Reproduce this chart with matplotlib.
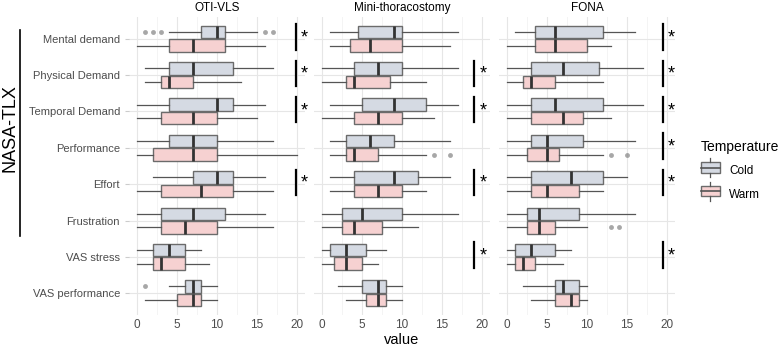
import matplotlib.pyplot as plt
from matplotlib.patches import Patch, Rectangle
from matplotlib.lines import Line2D
from matplotlib.legend_handler import HandlerBase

plt.rcParams['font.family'] = ['Liberation Sans', 'DejaVu Sans']

# categories and panels
items = ["Mental demand", "Physical Demand", "Temporal Demand", "Performance",
         "Effort", "Frustration", "VAS stress", "VAS performance"]
panels = ["OTI-VLS", "Mini-thoracostomy", "FONA"]

# five number summaries: [whislo, q1, med, q3, whishi] per item
oti_cold = [[4, 8, 10, 11, 15], [1, 4, 7, 12, 17], [0, 4, 10, 12, 16], [0, 4, 7, 10, 17],
            [2, 7, 10, 12, 16], [0, 3, 7, 11, 16], [0, 2, 4, 6, 8], [4, 6, 7, 8, 10]]
oti_warm = [[0, 4, 7, 11, 16], [1, 3, 4, 7, 13], [0, 3, 7, 10, 15], [0, 2, 7, 10, 20],
            [0, 3, 8, 12, 17], [0, 3, 6, 10, 17], [0, 2, 3, 6, 9], [1, 5, 7, 8, 10]]
mini_cold = [[1, 4.5, 9, 10, 17], [0, 4, 7, 10, 17], [1, 5, 9, 13, 17], [1, 3, 6, 9, 16],
             [1, 4, 9, 12, 16], [0, 2.5, 5, 10, 17], [0, 1, 3, 5.5, 8], [2, 5, 7, 8, 10]]
mini_warm = [[1, 3.5, 6, 10, 16], [0, 3, 4, 8.5, 13], [0, 4, 7, 10, 14], [1, 3, 4, 7, 13],
             [1, 4, 7, 10, 13], [0, 2.5, 4, 7.5, 12], [0, 1.5, 3, 5, 7], [3, 5.5, 7, 8, 10]]
fona_cold = [[1, 3.5, 6, 12, 16], [0, 3, 7, 11.5, 17], [0, 3, 6, 12, 17], [0, 3, 5, 9.5, 16],
             [0, 3, 8, 12, 15], [0, 2.5, 4, 9, 16], [0, 1, 3, 6, 8], [2, 6, 7, 9, 10]]
fona_warm = [[0, 3.5, 6, 10, 13], [0, 2, 3, 6, 12], [0, 3, 7, 9.5, 13], [0, 2.5, 5, 6.5, 12],
             [0, 3, 5, 9, 12], [0, 2.5, 4, 6, 10], [0, 1, 2, 3.5, 7], [3, 6, 8, 9, 10]]

# outliers: (item index, values)
oti_cold_out = {0: [1, 2, 3, 16, 17], 7: [1]}
oti_warm_out = {}
mini_cold_out = {}
mini_warm_out = {3: [14, 16]}
fona_cold_out = {}
fona_warm_out = {3: [13, 15], 5: [13, 14]}

# significant items per panel and bar x position
oti_sig = [0, 1, 2, 4]
mini_sig = [1, 2, 4, 6]
fona_sig = [0, 1, 2, 3, 4, 6]
sig_x = [19.9, 19.05, 19.5]

data = [(oti_cold, oti_warm, oti_cold_out, oti_warm_out, oti_sig),
        (mini_cold, mini_warm, mini_cold_out, mini_warm_out, mini_sig),
        (fona_cold, fona_warm, fona_cold_out, fona_warm_out, fona_sig)]

cold_col = "#d5dae3"
warm_col = "#f6d1d1"
edge_col = "#6b6b6b"

fig = plt.figure(figsize=(7.84, 3.51), dpi=100)
lefts = [129 / 784, 314 / 784, 499 / 784]
width = 176 / 784
bottom = 1 - 315 / 351
height = 298 / 351


def make_stats(rows, outs):
    st = []
    for i, r in enumerate(rows):
        st.append({"whislo": r[0], "q1": r[1], "med": r[2], "q3": r[3], "whishi": r[4],
                   "fliers": outs.get(i, [])})
    return st


for p, (cold, warm, cout, wout, sig) in enumerate(data):
    ax = fig.add_axes([lefts[p], bottom, width, height])
    ax.set_xlim(-1, 21)
    ax.set_ylim(8.6, 0.4)
    ax.set_xticks([0, 5, 10, 15, 20])
    ax.set_xticks([2.5, 7.5, 12.5, 17.5], minor=True)
    ax.set_yticks(range(1, 9))
    ax.grid(True, which="major", color="#e6e6e6", lw=0.8)
    ax.grid(True, which="minor", axis="x", color="#f2f2f2", lw=0.6)
    ax.set_axisbelow(True)
    for s in ax.spines.values():
        s.set_visible(False)
    ax.tick_params(axis="x", which="both", length=0, labelsize=8.5, labelcolor="#4d4d4d", pad=3)
    ax.tick_params(axis="y", length=3, color="#cccccc", labelsize=8, labelcolor="#4d4d4d")
    if p == 0:
        ax.set_yticklabels(items)
    else:
        ax.set_yticklabels([])
        ax.tick_params(axis="y", length=0)

    pos = list(range(1, 9))
    flier = dict(marker="o", markersize=3.5, markerfacecolor="#8a8a8a",
                 markeredgecolor="none", alpha=0.75)
    for rows, outs, off, col in [(cold, cout, -0.1875, cold_col), (warm, wout, 0.1875, warm_col)]:
        ax.bxp(make_stats(rows, outs), positions=[q + off for q in pos], widths=0.34,
               vert=False, patch_artist=True, showcaps=False, flierprops=flier,
               boxprops=dict(facecolor=col, edgecolor=edge_col, lw=1.0),
               whiskerprops=dict(color="#555555", lw=0.9),
               medianprops=dict(color="#333333", lw=2.0), manage_ticks=False)

    for i in sig:
        ax.plot([sig_x[p], sig_x[p]], [i + 1 - 0.4, i + 1 + 0.3], color="black", lw=1.6,
                clip_on=False)
        ax.text(sig_x[p] + 0.6, i + 1 - 0.02, "*", fontsize=13, ha="left", va="center",
                clip_on=False)

    ax.set_title(panels[p], fontsize=8.5, pad=4)
    if p == 1:
        ax.set_xlabel("value", fontsize=10.5, labelpad=1)

# NASA-TLX bracket on the left
fig.text(10 / 784, 1 - 128 / 351, "NASA-TLX", rotation=90, fontsize=13,
         ha="center", va="center")
fig.add_artist(Line2D([20 / 784, 20 / 784], [1 - 30 / 351, 1 - 236 / 351],
                      color="black", lw=1.2))


class BoxHandler(HandlerBase):
    def create_artists(self, legend, orig, xd, yd, w, h, fontsize, trans):
        cx = xd + w / 2
        box = Rectangle((xd, yd), w, h, facecolor=orig.get_facecolor(),
                        edgecolor=edge_col, lw=1.0, transform=trans)
        med = Line2D([xd, xd + w], [yd + h / 2, yd + h / 2], color="#555555", lw=1.2,
                     transform=trans)
        wt = Line2D([cx, cx], [yd + h, yd + h + 3], color="#555555", lw=0.9, transform=trans)
        wb = Line2D([cx, cx], [yd - 3, yd], color="#555555", lw=0.9, transform=trans)
        return [box, med, wt, wb]


handles = [Patch(facecolor=cold_col, edgecolor=edge_col, label="Cold"),
           Patch(facecolor=warm_col, edgecolor=edge_col, label="Warm")]
fig.legend(handles=handles, title="Temperature", loc="upper left",
           bbox_to_anchor=(690 / 784, 1 - 129 / 351), frameon=False,
           fontsize=8.5, title_fontsize=10, handlelength=1.6, handleheight=1.0,
           labelspacing=0.95, alignment="left", handler_map={Patch: BoxHandler()})

fig.savefig("out.png", dpi=100)
